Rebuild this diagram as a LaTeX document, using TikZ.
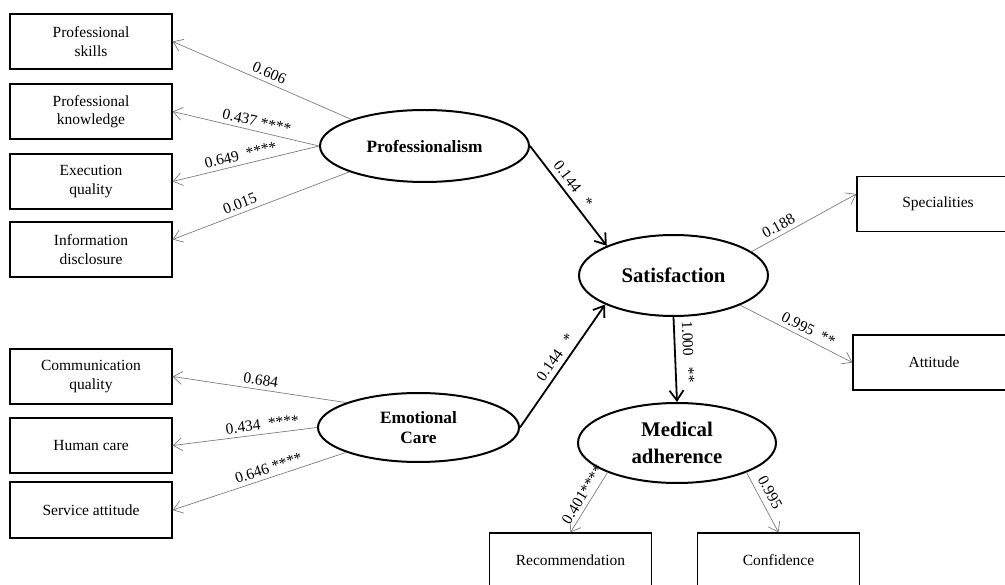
\documentclass[tikz,border=0pt]{standalone}
\usepackage{fontspec}
\setmainfont{Liberation Serif}
\usetikzlibrary{shapes.geometric,arrows.meta}
\begin{document}
\begin{tikzpicture}[x=1pt,y=-1pt,
 box/.style={draw=black, line width=1.3pt, rectangle, minimum width=162pt, minimum height=55pt, inner sep=0pt, align=center, font=\fontsize{15.5}{18.5}\selectfont},
 lat/.style={draw=black, line width=2pt, ellipse, inner sep=0pt, align=center, font=\fontsize{17.3}{20}\selectfont\bfseries},
 latbig/.style={lat, font=\fontsize{20.8}{26.5}\selectfont\bfseries},
 ind/.style={draw={rgb,255:red,125;green,125;blue,125}, line width=0.7pt, -{Straight Barb[length=9pt,width=13pt]}},
 structural/.style={draw=black, line width=1.8pt, -{Straight Barb[length=10pt,width=14pt]}},
 lbl/.style={sloped, above, font=\fontsize{15.5}{18}\selectfont, inner sep=4pt, text=black}
]
\useasboundingbox (0,0) rectangle (1005,585);
\clip (0,0) rectangle (1005,585);

% indicator boxes
\node[box] (skills) at (91,41.5) {Professional\\skills};
\node[box] (know) at (91,111.5) {Professional\\knowledge};
\node[box] (exec) at (91,181.5) {Execution\\quality};
\node[box] (disc) at (91,249.5) {Information\\disclosure};
\node[box] (comm) at (91,376.5) {Communication\\quality};
\node[box] (human) at (91,445.5) {Human care};
\node[box, minimum height=56pt] (serv) at (91,510) {Service attitude};
\node[box] (spec) at (938,204) {Specialities};
\node[box] (att) at (934,362.5) {Attitude};
\node[box] (rec) at (570.5,560.5) {Recommendation};
\node[box] (conf) at (778.5,560.5) {Confidence};

% latent variables
\node[lat, minimum width=209pt, minimum height=72pt] (prof) at (424.5,146) {Professionalism};
\node[lat, minimum width=201pt, minimum height=69pt] (emo) at (418.5,427.5) {Emotional\\Care};
\node[latbig, minimum width=189pt, minimum height=81pt] (sat) at (673.5,275.5) {Satisfaction};
\node[latbig, minimum width=198pt, minimum height=80pt] (med) at (677,443) {Medical\\adherence};

% Professionalism indicators
\draw[ind] (prof.160) -- node[lbl, pos=0.48] {0.606} (skills.east);
\draw[ind] (prof.west) -- node[lbl, pos=0.44] {0.437 ****} (know.east);
\draw[ind] (prof.west) -- node[lbl, pos=0.52] {0.649 \ ****} (exec.east);
\draw[ind] (prof.199) -- node[lbl, pos=0.6] {0.015} ([yshift=10pt]disc.east);

% Emotional care indicators
\draw[ind] (emo.161.6) -- node[lbl, pos=0.5] {0.684} (comm.east);
\draw[ind] (emo.west) -- node[lbl, pos=0.37] {0.434 \ ****} (human.east);
\draw[ind] (emo.199.4) -- node[lbl, pos=0.43] {0.646 ****} (serv.east);

% structural paths
\draw[structural] (prof.east) -- node[lbl, pos=0.45, inner sep=5pt] {0.144 \ \ *} (sat.156.8);
\draw[structural] (emo.east) -- node[lbl, pos=0.52, inner sep=5pt] {0.144 \ \ *} (sat.203.9);
\draw[structural] (sat.south) -- node[lbl, pos=0.42, inner sep=7pt] {1.000 \ \ **} (med.north);

% Satisfaction indicators
\draw[ind] (sat.17.3) -- node[lbl, pos=0.3] {0.188} ([yshift=10pt]spec.west);
\draw[ind] (sat.336.7) -- node[lbl, pos=0.57] {0.995 \ **} (att.west);

% Medical adherence indicators
\draw[ind] (med.203.2) -- node[lbl, pos=0.45] {0.401****} (rec.north);
\draw[ind] (med.337.1) -- node[lbl, pos=0.42, inner sep=6pt] {0.995} (conf.north);
\end{tikzpicture}
\end{document}
